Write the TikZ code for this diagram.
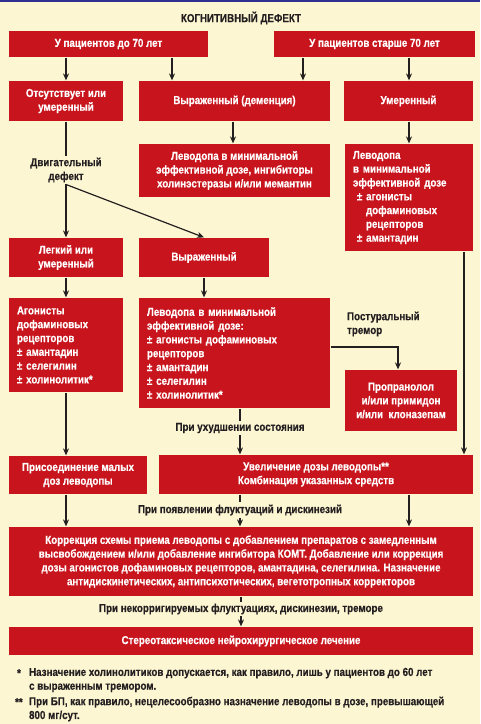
\documentclass[tikz,border=0pt]{standalone}
\usepackage{fontspec}
\setmainfont[FakeStretch=0.85, BoldFeatures={FakeBold=0.4}]{Liberation Sans}
\usetikzlibrary{arrows.meta}
\definecolor{kred}{HTML}{C8151D}
\definecolor{kbg}{HTML}{FDF6D2}
\definecolor{kdark}{HTML}{231F20}
\definecolor{kblue}{HTML}{2E3192}
\tikzset{
  box/.style={fill=kred, text=white, inner sep=0pt, align=center,
    font=\bfseries\fontsize{11.5}{13.8}\selectfont},
  lbox/.style={box, align=left, inner xsep=8pt},
  lbl/.style={text=kdark, inner sep=1.5pt, align=center,
    font=\bfseries\fontsize{11.5}{13.8}\selectfont},
}
\begin{document}
\begin{tikzpicture}[x=1pt, y=-1pt, >={Stealth[length=7pt,width=6pt]}, line width=1.2pt, draw=kdark]
  \fill[kbg] (0,0) rectangle (480,724);
  \useasboundingbox (0,0) rectangle (480,724);
  \draw[kblue, line width=1.5pt] (0,0.75) -- (480,0.75);
  \node[lbl] (title) at (241,18) {КОГНИТИВНЫЙ ДЕФЕКТ};
  % age groups
  \node[box, minimum width=199pt, minimum height=26pt] (ageA) at (108.5,44) {У пациентов до 70 лет};
  \node[box, minimum width=201pt, minimum height=26pt] (ageB) at (374.5,44) {У пациентов старше 70 лет};
  % cognitive level
  \node[box, minimum width=114pt, minimum height=40pt] (absent) at (66,101) {Отсутствует или\\умеренный};
  \node[box, minimum width=191pt, minimum height=40pt] (dement) at (234.5,101) {Выраженный (деменция)};
  \node[box, minimum width=129pt, minimum height=40pt] (moder) at (408.5,101) {Умеренный};
  \node[box, minimum width=191pt, minimum height=53pt] (levoA) at (234.5,170.5) {Леводопа в минимальной\\эффективной дозе, ингибиторы\\холинэстеразы и/или мемантин};
  \node[lbox, text width=112pt, minimum height=107pt] (levoB) at (409,197.5) {Леводопа\\в минимальной\\эффективной дозе\\\hspace*{4pt}± агонисты\\\hspace*{13pt}дофаминовых\\\hspace*{13pt}рецепторов\\\hspace*{4pt}± амантадин};
  % motor defect
  \node[lbl] (motor) at (66,170) {Двигательный\\дефект};
  \node[box, minimum width=114pt, minimum height=39pt] (mild) at (66,257.5) {Легкий или\\умеренный};
  \node[box, minimum width=130pt, minimum height=39pt] (severe) at (204,257.5) {Выраженный};
  \node[lbox, text width=98pt, minimum height=94pt] (agon) at (66,345) {Агонисты\\дофаминовых\\рецепторов\\± амантадин\\± селегилин\\± холинолитик*};
  \node[lbox, text width=175pt, minimum height=110pt] (levoC) at (234.5,353) {Леводопа в минимальной\\эффективной дозе:\\± агонисты дофаминовых\\рецепторов\\± амантадин\\± селегилин\\± холинолитик*};
  \node[lbl, anchor=west, align=left] (postur) at (345,324) {Постуральный\\тремор};
  \node[box, minimum width=112pt, minimum height=61pt] (propr) at (401,400.5) {Пропранолол\\и/или примидон\\и/или\ \ клоназепам};
  % later stages
  \node[lbl] (worse) at (240,428) {При ухудшении состояния};
  \node[box, minimum width=138pt, minimum height=38pt] (join) at (78,475) {Присоединение малых\\доз леводопы};
  \node[box, minimum width=314pt, minimum height=39pt] (incr) at (316,474.5) {Увеличение дозы леводопы**\\Комбинация указанных средств};
  \node[lbl] (fluct) at (240,510) {При появлении флуктуаций и дискинезий};
  \node[box, minimum width=464pt, minimum height=69pt] (corr) at (241,561.5) {Коррекция схемы приема леводопы с добавлением препаратов с замедленным\\высвобождением и/или добавление ингибитора КОМТ. Добавление или коррекция\\дозы агонистов дофаминовых рецепторов, амантадина, селегилина. Назначение\\антидискинетических, антипсихотических, вегетотропных корректоров};
  \node[lbl] (uncor) at (241,609) {При некорригируемых флуктуациях, дискинезии, треморе};
  \node[box, minimum width=464pt, minimum height=28pt] (stereo) at (241,641) {Стереотаксическое нейрохирургическое лечение};
  % footnotes
  \node[lbl, anchor=west] (star1) at (15,673) {*};
  \node[lbl, anchor=west, align=left] (note1) at (27,680) {Назначение холинолитиков допускается, как правило, лишь у пациентов до 60 лет\\с выраженным тремором.};
  \node[lbl, anchor=west] (star2) at (13,702) {**};
  \node[lbl, anchor=west, align=left] (note2) at (27,709) {При БП, как правило, нецелесообразно назначение леводопы в дозе, превышающей\\800 мг/сут.};
  % connectors
  \draw[->] (66,0 |- ageA.south) -- (absent.north);
  \draw[->] (172,0 |- ageA.south) -- (172,0 |- dement.north);
  \draw[->] (303,0 |- ageB.south) -- (303,0 |- dement.north);
  \draw[->] (409,0 |- ageB.south) -- (409,0 |- moder.north);
  \draw[->] (233,0 |- dement.south) -- (233,0 |- levoA.north);
  \draw[->] (409,0 |- moder.south) -- (409,0 |- levoB.north);
  \draw (absent.south) -- (motor.north);
  \draw[->] (motor.south) -- (mild.north);
  \draw[->] (motor.south) -- (severe.north);
  \draw[->] (mild.south) -- (agon.north);
  \draw[->] (severe.south) -- (severe.south |- levoC.north);
  \draw[->] ([yshift=6pt]levoC.east) -| ([xshift=-3pt]propr.north);
  \draw[->] (464,0 |- levoB.south) -- (464,0 |- incr.north);
  \draw[->] (agon.south) -- (agon.south |- join.north);
  \draw (240,0 |- levoC.south) -- (worse.north);
  \draw[->] (worse.south) -- (240,0 |- incr.north);
  \draw[->] (66,0 |- join.south) -- (66,0 |- corr.north);
  \draw (240,0 |- incr.south) -- (fluct.north);
  \draw[->] (fluct.south) -- (240,0 |- corr.north);
  \draw[->] (409,0 |- incr.south) -- (409,0 |- corr.north);
  \draw (241,0 |- corr.south) -- (uncor.north);
  \draw[->] (uncor.south) -- (241,0 |- stereo.north);
\end{tikzpicture}
\end{document}
